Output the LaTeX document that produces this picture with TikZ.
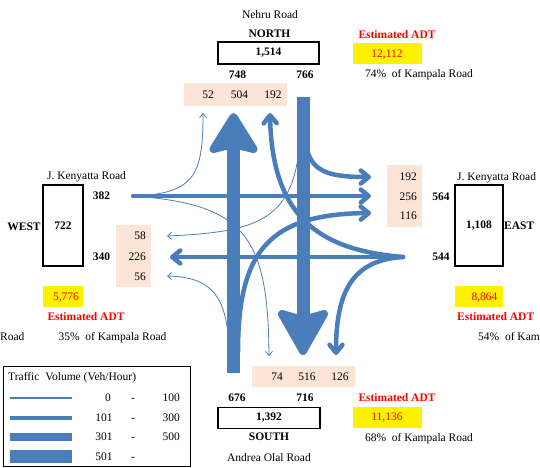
\documentclass[tikz,border=0pt]{standalone}
\usepackage{fontspec}
\setmainfont{Liberation Serif}
\usetikzlibrary{arrows.meta}
\definecolor{fc}{RGB}{74,126,187}
\definecolor{peach}{RGB}{252,228,214}
\definecolor{adtred}{RGB}{255,0,0}
\begin{document}
\begin{tikzpicture}[x=1pt,y=-1pt,
  txt/.style={font=\fontsize{11.5}{13}\selectfont, inner sep=0pt, text height=7.6pt, text depth=0pt},
  bld/.style={font=\fontsize{11.5}{13}\selectfont\bfseries, inner sep=0pt, text height=7.6pt, text depth=0pt},
  adtlbl/.style={bld, text=adtred},
  adtnum/.style={txt, text=adtred},
  legbox/.style={draw=black, line width=1.6pt, inner sep=0pt},
  peachbox/.style={fill=peach, draw=none, inner sep=0pt},
  yelbox/.style={fill=yellow, draw=none, inner sep=0pt},
  flowthin/.style={draw=fc, line width=0.8pt, line cap=round, line join=round, -{Straight Barb[length=4pt,width=7pt]}},
  flowmid/.style={draw=fc, line width=4.5pt, line cap=round, line join=round, -{Straight Barb[length=8pt,width=13pt,round]}},
  flowbig/.style={draw=fc, line width=13pt, line cap=butt},
  bighead/.style={fill=fc, draw=fc, line width=8pt, line join=round},
  legline/.style={draw=fc, line cap=butt}
]
\useasboundingbox (0,0) rectangle (540,467);
\fill[white] (0,0) rectangle (540,467);

% ---------- boxes ----------
\node[peachbox, minimum width=103pt, minimum height=23pt] (pN) at (235.5,94.5) {};
\node[peachbox, minimum width=35pt, minimum height=62pt] (pW) at (133.5,256) {};
\node[peachbox, minimum width=35pt, minimum height=62pt] (pE) at (404.5,196) {};
\node[peachbox, minimum width=103pt, minimum height=21pt] (pS) at (303.5,376.5) {};

\node[yelbox, minimum width=69pt, minimum height=21pt] (yN) at (387.5,53.5) {};
\node[yelbox, minimum width=40pt, minimum height=21pt] (yW) at (63,296.5) {};
\node[yelbox, minimum width=48pt, minimum height=21pt] (yE) at (479,296.5) {};
\node[yelbox, minimum width=69pt, minimum height=21pt] (yS) at (387.5,417.5) {};

% ---------- flows ----------
% south approach
\coordinate (sA) at (233.5,373);
\coordinate (sT) at (233.5,145);
\coordinate (sL0) at (229,345);
\coordinate (sL1) at (167,276);
\coordinate (sR0) at (238,352);
\coordinate (sR1) at (371,213);
\draw[flowbig] (sA) -- (sT);
\draw[bighead] (233.5,117) -- (213.5,149) -- (233.5,144) -- (253.5,149) -- cycle;
\draw[flowthin] (sL0) .. controls (226,300) and (215,277) .. (sL1);
\draw[flowmid] (sR0) .. controls (238,252) and (268,214) .. (sR1);

% north approach
\coordinate (nA) at (303,97);
\coordinate (nT) at (303,320);
\coordinate (nL0) at (304,128);
\coordinate (nL1) at (371,177);
\coordinate (nR0) at (300,140);
\coordinate (nR1) at (167,236);
\draw[flowbig] (nA) -- (nT);
\draw[bighead] (303,351) -- (282,314) -- (303,320) -- (324,314) -- cycle;
\draw[flowmid] (nL0) .. controls (306,168) and (318,177) .. (nL1);
\draw[flowthin] (nR0) .. controls (294,218) and (262,232) .. (nR1);

% west approach
\coordinate (wA) at (133,196);
\coordinate (wT) at (371,196);
\coordinate (wL1) at (203,113);
\coordinate (wR1) at (269,356);
\draw[flowmid] (wA) -- (wT);
\draw[flowthin] (wA) .. controls (195,194) and (203,175) .. (wL1);
\draw[flowthin] (wA) .. controls (245,204) and (268,236) .. (wR1);

% east approach
\coordinate (eA) at (403,257);
\coordinate (eT) at (170,257);
\coordinate (eR1) at (270,113);
\coordinate (eL1) at (336,355);
\draw[flowmid] (eA) -- (eT);
\draw[flowmid] (eA) .. controls (320,250) and (272,218) .. (eR1);
\draw[flowmid] (eA) .. controls (352,260) and (336,292) .. (eL1);

% ---------- north ----------
\node[txt] (nRoad) at (270,15) {Nehru Road};
\node[bld] (nName) at (269.5,34) {NORTH};
\node[legbox, minimum width=101pt, minimum height=22pt, font=\fontsize{11.5}{13}\selectfont\bfseries] (nBox) at (268.5,53) {1,514};
\node[bld] (nIn) at (237.5,75) {748};
\node[bld] (nOut) at (305,75) {766};
\node[txt] (pN1) at (208,95) {52};
\node[txt] (pN2) at (239.5,95) {504};
\node[txt] (pN3) at (273,95) {192};
\node[adtlbl] (nAdtL) at (397,35) {Estimated ADT};
\node[adtnum] (nAdt) at (387,54) {12,112};
\node[txt] (nPct) at (419,74) {74\%\ \ of Kampala Road};

% ---------- west ----------
\node[txt] (wRoad) at (86.5,176) {J. Kenyatta Road};
\node[legbox, minimum width=40pt, minimum height=81pt, font=\fontsize{11.5}{13}\selectfont\bfseries] (wBox) at (63,225.5) {722};
\node[bld] (wName) at (24,227) {WEST};
\node[bld] (wIn) at (101.5,196) {382};
\node[bld] (wOut) at (101.5,257) {340};
\node[txt, anchor=east] (pW1) at (146,236) {58};
\node[txt, anchor=east] (pW2) at (146,256.5) {226};
\node[txt, anchor=east] (pW3) at (146,277) {56};
\node[adtnum] (wAdt) at (66,297) {5,776};
\node[adtlbl] (wAdtL) at (86,317) {Estimated ADT};
\node[txt] (wPct) at (112.5,337) {35\%\ \ of Kampala Road};
\node[txt, anchor=west] (wCut) at (0,337) {Road};

% ---------- east ----------
\node[txt, anchor=east] (pE1) at (417,177) {192};
\node[txt, anchor=east] (pE2) at (417,196.5) {256};
\node[txt, anchor=east] (pE3) at (417,216) {116};
\node[txt, anchor=west] (eRoad) at (457,177) {J. Kenyatta Road};
\node[legbox, minimum width=48pt, minimum height=81pt, font=\fontsize{11.5}{13}\selectfont\bfseries] (eBox) at (479,225.5) {1,108};
\node[bld, anchor=west] (eName) at (504,226) {EAST};
\node[bld] (eIn) at (441,197) {564};
\node[bld] (eOut) at (441,257) {544};
\node[adtnum] (eAdt) at (484.5,297) {8,864};
\node[adtlbl, anchor=west] (eAdtL) at (457,317) {Estimated ADT};
\node[txt, anchor=west] (ePct) at (478,337) {54\%\ \ of Kam};

% ---------- south ----------
\node[txt] (pS1) at (277,377) {74};
\node[txt] (pS2) at (307,377) {516};
\node[txt] (pS3) at (340,377) {126};
\node[bld] (sIn) at (237,398) {676};
\node[bld] (sOut) at (305,398) {716};
\node[legbox, minimum width=102pt, minimum height=21pt, font=\fontsize{11.5}{13}\selectfont\bfseries] (sBox) at (269,418) {1,392};
\node[bld] (sName) at (269,437) {SOUTH};
\node[txt] (sRoad) at (269,458) {Andrea Olal Road};
\node[adtlbl] (sAdtL) at (397,398) {Estimated ADT};
\node[adtnum] (sAdt) at (387,417) {11,136};
\node[txt] (sPct) at (419,438) {68\%\ \ of Kampala Road};

% ---------- legend ----------
\node[draw=black, line width=0.9pt, minimum width=187pt, minimum height=100pt, anchor=north west, inner sep=0pt] (leg) at (3,366) {};
\node[txt, anchor=west] (legT) at (8,377) {Traffic\ \ Volume (Veh/Hour)};
\coordinate (l1a) at (10,398); \coordinate (l1b) at (72,398);
\coordinate (l2a) at (10,418); \coordinate (l2b) at (72,418);
\coordinate (l3a) at (10,437); \coordinate (l3b) at (72,437);
\coordinate (l4a) at (10,456); \coordinate (l4b) at (72,456);
\draw[legline, line width=1.5pt] (l1a) -- (l1b);
\draw[legline, line width=4pt] (l2a) -- (l2b);
\draw[legline, line width=8pt] (l3a) -- (l3b);
\draw[legline, line width=13pt] (l4a) -- (l4b);
\node[txt] (lv1a) at (108,398) {0};
\node[txt] (lv1b) at (133,398) {-};
\node[txt, anchor=east] (lv1c) at (180,398) {100};
\node[txt] (lv2a) at (104,418) {101};
\node[txt] (lv2b) at (133,418) {-};
\node[txt, anchor=east] (lv2c) at (180,418) {300};
\node[txt] (lv3a) at (104,437) {301};
\node[txt] (lv3b) at (133,437) {-};
\node[txt, anchor=east] (lv3c) at (180,437) {500};
\node[txt] (lv4a) at (104,457) {501};
\node[txt] (lv4b) at (133,457) {-};
\end{tikzpicture}
\end{document}
